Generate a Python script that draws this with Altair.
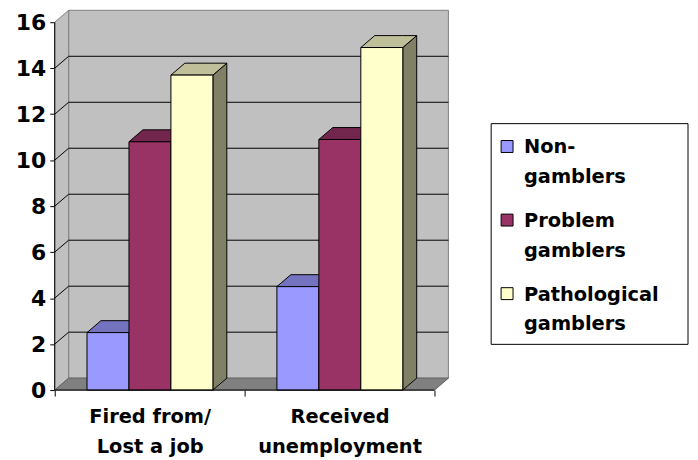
import json
import altair as alt
import pandas as pd

# ---------------- data ----------------
categories = ["Fired from/ Lost a job", "Received unemployment"]
category_lines = [["Fired from/", "Lost a job"], ["Received", "unemployment"]]
series = ["Non-gamblers", "Problem gamblers", "Pathological gamblers"]
legend_lines = [["Non-", "gamblers"], ["Problem", "gamblers"], ["Pathological", "gamblers"]]
non_gamblers = [2.5, 4.5]
problem_gamblers = [10.8, 10.9]
pathological_gamblers = [13.7, 14.9]
y_ticks = [0, 2, 4, 6, 8, 10, 12, 14, 16]

# ---------------- style ----------------
front_colors = ["#9999FF", "#993366", "#FFFFCC"]
top_colors = ["#7373BF", "#73264D", "#BFBF99"]
side_colors = ["#4D4D80", "#4D1A33", "#808066"]
wall_color = "#C0C0C0"
floor_color = "#808080"
edge_color = "#808080"
FONT = "DejaVu Sans"

PLOT_W = 396
PLOT_H = 382
PX_PER_UNIT = 23.125          # pixels per y unit
CAT_PX = 191                  # pixels per category
DX = 14 / CAT_PX              # 3-D depth along x (category units)
DY = 12 / PX_PER_UNIT         # 3-D depth along y (value units)
GROUP_START = 0.17
BAR_W = 0.221

# legend layout (pixels, relative to plot origin)
LEG_X, LEG_Y, LEG_W, LEG_H = 439, 114, 198, 222
LEG_SYM_X = 455
LEG_TEXT_X = 472
LEG_ROW0 = 137
LEG_PITCH = 74

n_cat = len(categories)
y_top = max(y_ticks)
x_max = n_cat + DX
y_max = PLOT_H / PX_PER_UNIT

values = [non_gamblers, problem_gamblers, pathological_gamblers]
rows = []
for si, s in enumerate(series):
    for ci, c in enumerate(categories):
        rows.append(dict(ci=ci, si=si, bar=f"{ci}-{si}", category=c, series=s,
                         value=values[si][ci], top_color=top_colors[si],
                         side_color=side_colors[si]))
bars = pd.DataFrame(rows)
frame = pd.DataFrame({"n": [n_cat], "top": [y_top]})
grid = pd.DataFrame({"lvl": y_ticks[1:-1]})
legend_df = pd.DataFrame({
    "series": series,
    "idx": list(range(len(series))),
    "label": ["\n".join(l) for l in legend_lines],
})

x_scale = alt.Scale(domain=[0, x_max], nice=False, zero=False)
y_scale = alt.Scale(domain=[0, y_max], nice=False, zero=False)
color_scale = alt.Scale(domain=series, range=front_colors)

# ---------------- axes ----------------
x_label_expr = ""
for i, lines in enumerate(category_lines):
    x_label_expr += f"datum.value == {i + 0.5} ? {json.dumps(lines)} : "
x_label_expr += "''"
x_vals = sorted(set([i for i in range(n_cat + 1)] + [i + 0.5 for i in range(n_cat)]))

x_axis = alt.Axis(
    values=x_vals, labelExpr=x_label_expr, title=None, domain=False, grid=False,
    tickSize=6, tickColor="black", tickWidth=1,
    tickOpacity={"condition": {"test": "datum.value % 1 === 0", "value": 1}, "value": 0},
    labelFont=FONT, labelFontSize=19.5, labelFontWeight="bold", labelColor="black",
    labelLineHeight=30, labelPadding=12, labelAngle=0, labelBaseline="top",
    labelBound=False, labelOverlap=False, labelFlush=False,
)
y_axis = alt.Axis(
    values=y_ticks, title=None, domain=False, grid=False,
    tickSize=5, tickColor="black", tickWidth=1,
    labelFont=FONT, labelFontSize=22, labelFontWeight="bold", labelColor="black",
    labelPadding=4, labelBound=False, labelOverlap=False, labelFlush=False,
)


def X(field):
    return alt.X(field, scale=x_scale, axis=x_axis)


def Y(field):
    return alt.Y(field, scale=y_scale, axis=y_axis)


# ---------------- walls ----------------
back_wall = alt.Chart(frame).transform_calculate(
    wx=f"{DX}", wx2=f"datum.n + {DX}", wy=f"{DY}", wy2=f"datum.top + {DY}"
).mark_rect(fill=wall_color, stroke=edge_color, strokeWidth=1).encode(
    x=X("wx:Q"), x2="wx2:Q", y=Y("wy:Q"), y2="wy2:Q",
)

left_wall = alt.Chart(frame).transform_calculate(k="[0,1]").transform_flatten(["k"]).transform_calculate(
    px=f"datum.k * {DX}"
).transform_calculate(
    py=f"datum.top + datum.k * {DY}"
).transform_calculate(
    py2=f"datum.k * {DY}"
).mark_area(fill=wall_color, stroke=edge_color, strokeWidth=1, opacity=1).encode(
    x=X("px:Q"), y=Y("py:Q"), y2="py2:Q",
)

floor = alt.Chart(frame).transform_calculate(k="[0,1,2,3]").transform_flatten(["k"]).transform_calculate(
    px=f"(datum.k % 2) * {DX} + (datum.k >= 2 ? datum.n : 0)"
).transform_calculate(
    py=f"datum.k == 0 ? 0 : {DY}"
).transform_calculate(
    py2=f"datum.k == 3 ? {DY} : 0"
).mark_area(fill=floor_color, stroke="#606060", strokeWidth=1, opacity=1).encode(
    x=X("px:Q"), y=Y("py:Q"), y2="py2:Q",
)

grid_back = alt.Chart(grid).transform_calculate(
    gx=f"{DX}", gx2=f"{n_cat} + {DX}", gy=f"datum.lvl + {DY}"
).mark_rule(color="black", strokeWidth=1).encode(
    x=X("gx:Q"), x2="gx2:Q", y=Y("gy:Q"), y2="gy:Q",
)

grid_diag = alt.Chart(grid).transform_calculate(
    gx="0", gx2=f"{DX}", gy2=f"datum.lvl + {DY}"
).mark_rule(color="black", strokeWidth=1).encode(
    x=X("gx:Q"), x2="gx2:Q", y=Y("lvl:Q"), y2="gy2:Q",
)

# ---------------- bars ----------------
bar_base = alt.Chart(bars).transform_calculate(
    x0=f"datum.ci + {GROUP_START} + datum.si * {BAR_W}"
).transform_calculate(
    x1=f"datum.x0 + {BAR_W}"
).transform_calculate(
    base="0"
)

side = bar_base.transform_calculate(k="[0,1]").transform_flatten(["k"]).transform_calculate(
    px=f"datum.x1 + datum.k * {DX}"
).transform_calculate(
    py=f"datum.value + datum.k * {DY}"
).transform_calculate(
    py2=f"datum.k * {DY}"
).mark_area(stroke="black", strokeWidth=1, opacity=1).encode(
    x=X("px:Q"), y=Y("py:Q"), y2="py2:Q",
    fill=alt.Fill("side_color:N", scale=None),
    detail="bar:N",
)

top = bar_base.transform_calculate(k="[0,1,2,3]").transform_flatten(["k"]).transform_calculate(
    px=f"datum.x0 + (datum.k % 2) * {DX} + (datum.k >= 2 ? {BAR_W} : 0)"
).transform_calculate(
    py=f"datum.value + (datum.k == 0 ? 0 : {DY})"
).transform_calculate(
    py2=f"datum.value + (datum.k == 3 ? {DY} : 0)"
).mark_area(stroke="black", strokeWidth=1, opacity=1).encode(
    x=X("px:Q"), y=Y("py:Q"), y2="py2:Q",
    fill=alt.Fill("top_color:N", scale=None),
    detail="bar:N",
)

front = bar_base.mark_rect(stroke="black", strokeWidth=1, opacity=1).encode(
    x=X("x0:Q"), x2="x1:Q", y=Y("value:Q"), y2="base:Q",
    color=alt.Color("series:N", scale=color_scale, legend=None),
)

# ---------------- axis lines ----------------
y_line = alt.Chart(frame).transform_calculate(z="0").mark_rule(color="black", strokeWidth=1).encode(
    x=X("z:Q"), y=Y("z:Q"), y2="top:Q",
)
x_line = alt.Chart(frame).transform_calculate(z="0").mark_rule(color="black", strokeWidth=1).encode(
    x=X("z:Q"), x2="n:Q", y=Y("z:Q"),
)

# ---------------- legend ----------------
leg_box = alt.Chart(frame).mark_rect(fill="white", stroke="black", strokeWidth=1).encode(
    x=alt.value(LEG_X), x2=alt.value(LEG_X + LEG_W),
    y=alt.value(LEG_Y), y2=alt.value(LEG_Y + LEG_H),
)
leg_base = alt.Chart(legend_df).transform_calculate(
    ly=f"{LEG_ROW0} + datum.idx * {LEG_PITCH}"
).transform_calculate(
    ty="datum.ly + 7"
)
leg_sym = leg_base.mark_square(size=144, filled=True, stroke="black", strokeWidth=1, opacity=1).encode(
    x=alt.value(LEG_SYM_X),
    y=alt.Y("ly:Q", scale=None, axis=None),
    fill=alt.Fill("series:N", scale=color_scale, legend=None),
)
leg_text = leg_base.mark_text(
    align="left", baseline="alphabetic", lineBreak="\n", lineHeight=30,
    font=FONT, fontSize=19.5, fontWeight="bold", color="black",
).encode(
    x=alt.value(LEG_TEXT_X),
    y=alt.Y("ty:Q", scale=None, axis=None),
    text="label:N",
)

chart = alt.layer(
    back_wall, left_wall, floor, grid_back, grid_diag, side, top, front, y_line, x_line,
    leg_box, leg_sym, leg_text,
).properties(
    width=PLOT_W, height=PLOT_H,
    autosize=alt.AutoSizeParams(type="none"),
    padding={"left": 47, "top": 1, "right": 243, "bottom": 67},
    background="white",
).configure_view(stroke=None)

chart.save("out.html", embed_options={"renderer": "svg", "actions": False})
